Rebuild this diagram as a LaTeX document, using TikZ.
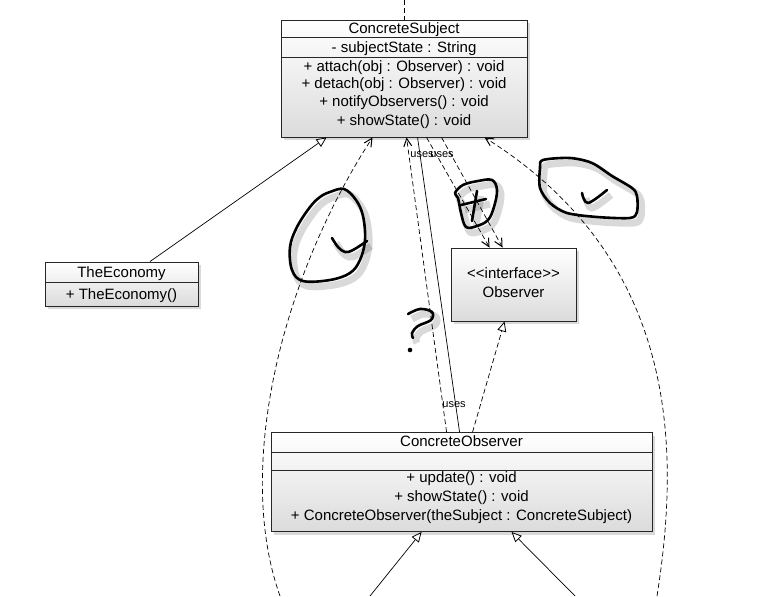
\documentclass[tikz,border=0pt]{standalone}
\usepackage{fontspec}
\setmainfont{Liberation Sans}
\usetikzlibrary{arrows.meta,shadows,calc}
\begin{document}
\begin{tikzpicture}[x=1pt,y=-1pt,
  box/.style={draw=black!85, line width=0.9pt, top color=white, bottom color=black!14,
    drop shadow={shadow xshift=3pt, shadow yshift=-3pt, opacity=0.3}, inner sep=0pt},
  divline/.style={draw=black!85, line width=0.9pt},
  txt/.style={font=\fontsize{15}{17}\selectfont, inner sep=0pt, anchor=base},
  lbl/.style={font=\fontsize{11}{13}\selectfont, inner sep=0pt},
  conn/.style={line width=0.7pt},
  dep/.style={conn, dash pattern=on 5pt off 3pt},
  deptip/.style={-{Straight Barb[length=8pt,width=8pt,line width=1pt]}},
  gen/.style={-{Triangle[open,length=10pt,width=9pt,fill=white,line width=0.8pt]}},
  hw/.style={line width=2.6pt, line cap=round, line join=round,
    preaction={draw, black, opacity=0.15, line width=7pt, transform canvas={shift={(4pt,-5pt)}}}},
]
\useasboundingbox (0,0) rectangle (783,596);

% ---------- hand-drawn marks ----------
\draw[hw] plot[smooth cycle, tension=0.6] coordinates {(330,192) (344,189) (356,200) (363,216) (365,240) (360,260) (350,273) (330,280) (303,281) (292,270) (290,247) (297,227) (310,207) (320,197)};
\draw[hw] plot[smooth, tension=0.6] coordinates {(332,238) (338,247) (345,252) (353,250) (367,241)};

\draw[hw] plot[smooth cycle, tension=0.6] coordinates {(455,193) (463,185) (478,181) (492,180) (497,190) (494,207) (488,220) (477,226) (466,227) (461,213) (458,198)};
\draw[hw] (477,191) -- (472,221);
\draw[hw] (461,205) -- (486,199);

\draw[hw] plot[smooth cycle, tension=0.5] coordinates {(543,160) (570,158) (592,163) (612,176) (632,188) (637,196) (637,212) (630,218) (597,217) (567,213) (550,203) (540,188) (540,168)};
\draw[hw] plot[smooth, tension=0.6] coordinates {(582,193) (588,203) (607,190)};

\draw[hw] plot[smooth, tension=0.6] coordinates {(408,314) (420,309) (432,312) (431,320) (418,326) (412,333) (413,338)};
\fill (410,350) circle (2.3);

% ---------- classes ----------
\node[box, minimum width=246pt, minimum height=117pt] (cs) at (404,78.5) {};
\draw[divline] ($(cs.north west)+(0,18)$) -- ($(cs.north east)+(0,18)$);
\draw[divline] ($(cs.north west)+(0,38)$) -- ($(cs.north east)+(0,38)$);
\node[txt] (cs1) at (404,34) {ConcreteSubject};
\node[txt] (cs2) at (404,53) {- subjectState : String};
\node[txt] (cs3) at (404,72) {+ attach(obj : Observer) : void};
\node[txt] (cs4) at (404,89) {+ detach(obj : Observer) : void};
\node[txt] (cs5) at (404,107) {+ notifyObservers() : void};
\node[txt] (cs6) at (404,126) {+ showState() : void};

\node[box, minimum width=153pt, minimum height=44pt] (eco) at (121.5,284) {};
\draw[divline] ($(eco.north west)+(0,21)$) -- ($(eco.north east)+(0,21)$);
\node[txt] (eco1) at (121.5,277) {TheEconomy};
\node[txt] (eco2) at (121.5,299) {+ TheEconomy()};

\node[box, minimum width=125pt, minimum height=73pt] (obs) at (513.5,284.5) {};
\node[txt] (obs1) at (513.5,278) {<\kern0pt<interface>\kern0pt>};
\node[txt] (obs2) at (513.5,297) {Observer};

\node[box, minimum width=381pt, minimum height=99pt] (co) at (461.5,482) {};
\draw[divline] ($(co.north west)+(0,20)$) -- ($(co.north east)+(0,20)$);
\draw[divline] ($(co.north west)+(0,38)$) -- ($(co.north east)+(0,38)$);
\node[txt] (co1) at (461.5,446) {ConcreteObserver};
\node[txt] (co2) at (461.5,482) {+ update() : void};
\node[txt] (co3) at (461.5,501) {+ showState() : void};
\node[txt] (co4) at (461.5,520) {+ ConcreteObserver(theSubject : ConcreteSubject)};

% ---------- free ends ----------
\coordinate (topend) at (404,0);
\coordinate (lc) at (280,596);
\coordinate (rc) at (657,596);
\coordinate (b1) at (370,596);
\coordinate (b2) at (575,596);

% ---------- connectors ----------
\draw[dep] (topend) -- (cs.north);
\draw[conn, gen] ($(eco.north)+(28.5,0)$) -- ($(cs.south west)+(46,0)$);
\draw[dep, deptip] (lc) .. controls (235,470) and (280,280) .. ($(cs.south west)+(92,0)$);
\draw[dep, deptip] (rc) .. controls (680,450) and (680,260) .. ($(cs.south west)+(204,0)$);
\draw[dep, deptip] ($(co.north west)+(176,0)$) -- ($(cs.south west)+(126,0)$);
\draw[conn] ($(cs.south west)+(137,0)$) -- ($(co.north west)+(189,0)$);
\draw[dep, deptip] ($(cs.south west)+(146,0)$) -- ($(obs.north west)+(39,0)$);
\draw[dep, deptip] ($(cs.south west)+(161,0)$) -- ($(obs.north west)+(52,0)$);
\draw[dep, gen] ($(co.north west)+(202,0)$) -- ($(obs.south west)+(54,0)$);
\draw[conn, gen] (b1) -- ($(co.south west)+(151,0)$);
\draw[conn, gen] (b2) -- ($(co.south west)+(241,0)$);

\node[lbl] (u1) at (454,405) {uses};
\node[lbl] (u2) at (422,155) {uses};
\node[lbl] (u3) at (442,155) {uses};
\end{tikzpicture}
\end{document}
